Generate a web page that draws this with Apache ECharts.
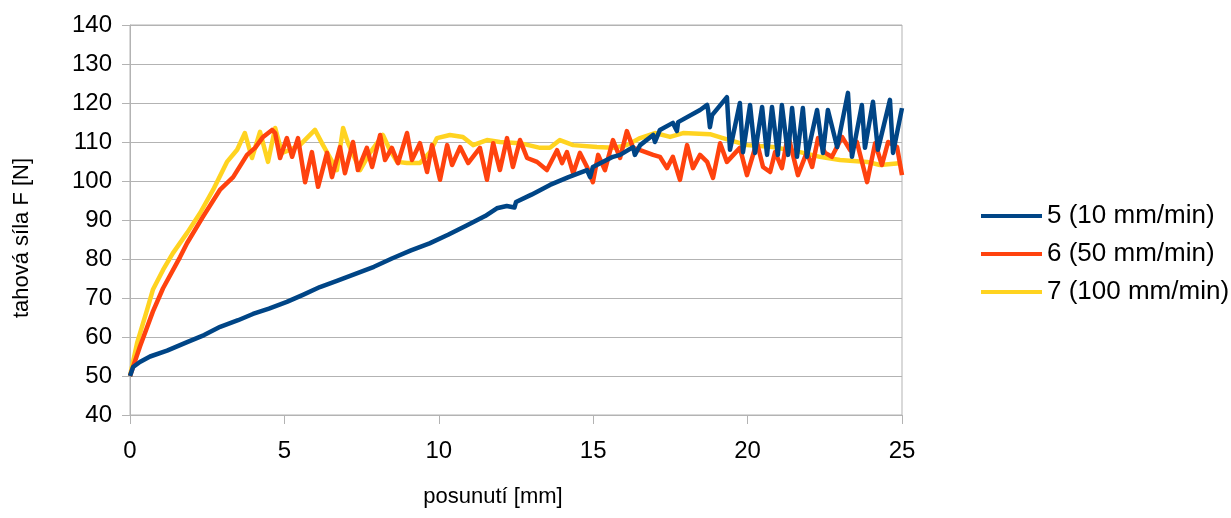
<!DOCTYPE html>
<html>
<head>
<meta charset="utf-8">
<script src="https://cdn.jsdelivr.net/npm/echarts@6/dist/echarts.min.js"></script>
<style>
  html, body { margin: 0; padding: 0; background: #fff; }
  #chart { width: 1231px; height: 518px; }
</style>
</head>
<body>
<div id="chart"></div>
<script>
// legend labels
var seriesNames = ['5 (10 mm/min)', '6 (50 mm/min)', '7 (100 mm/min)'];

// [posunutí mm, síla N]
var series5 = [
  [0, 50], [0.1, 52.3], [0.32, 53.6], [0.65, 55], [1.2, 56.5], [1.85, 58.7], [2.4, 60.5],
  [2.92, 62.6], [3.5, 64.3], [3.98, 65.9], [4.5, 67.3], [5.08, 69], [5.6, 70.8], [6.15, 72.8],
  [6.7, 74.4], [7.3, 76.2], [7.9, 78], [8.5, 80.2], [9.1, 82.2], [9.7, 84], [10.3, 86.2],
  [10.9, 88.6], [11.5, 91], [11.88, 93], [12.2, 93.6], [12.45, 93.2], [12.5, 94.6], [13, 96.5],
  [13.6, 99], [14.2, 101], [14.8, 102.8], [14.9, 101], [14.99, 103.6], [15.64, 106.2],
  [15.87, 106.7], [16.29, 108.7], [16.35, 106.7], [16.52, 109.2], [16.94, 111.8], [17.0, 110],
  [17.16, 113.1], [17.58, 114.9], [17.71, 112.8], [17.75, 115.1], [18.46, 118.2], [18.69, 119.5],
  [18.72, 118.2], [18.78, 113.8], [18.85, 116.9], [19.33, 121.5], [19.43, 108], [19.75, 120],
  [19.85, 107.4], [20.08, 119.5], [20.24, 107.2], [20.47, 119], [20.63, 106.7], [20.79, 119],
  [20.98, 106.7], [21.11, 119.5], [21.31, 106.7], [21.44, 118.7], [21.6, 106.2], [21.79, 118.7],
  [21.92, 106.2], [22.25, 118.2], [22.44, 107.2], [22.6, 118.2], [22.9, 108.7], [23.25, 122.6],
  [23.38, 106.2], [23.7, 119.5], [23.8, 108.5], [24.06, 120.3], [24.22, 108], [24.61, 120.8],
  [24.71, 107.2], [25, 118.7]
];

var series6 = [
  [0, 50], [0.32, 57.5], [0.74, 66.5], [1.07, 72.5], [1.62, 80.5], [1.85, 84.1], [2.36, 90.8],
  [2.91, 97.7], [3.34, 101], [3.79, 106.7], [4.05, 108.5], [4.31, 111.3], [4.6, 113.1],
  [4.7, 112.3], [4.86, 105.9], [5.08, 111], [5.25, 106.2], [5.44, 111], [5.67, 99.7],
  [5.89, 107.4], [6.09, 98.5], [6.38, 107.2], [6.54, 101], [6.8, 108.7], [6.96, 102],
  [7.22, 110], [7.38, 102.8], [7.67, 108.5], [7.84, 103.6], [8.1, 111.8], [8.26, 105.4],
  [8.48, 108.5], [8.68, 104.6], [8.97, 112.3], [9.13, 105.4], [9.39, 109.7], [9.62, 102.3],
  [9.78, 109.2], [10.04, 100.3], [10.27, 109.2], [10.43, 104.1], [10.69, 108.7], [10.95, 104.6],
  [11.33, 108.5], [11.56, 100.3], [11.76, 109.7], [11.98, 102.8], [12.21, 111], [12.4, 103.6],
  [12.63, 110.5], [12.86, 105.9], [13.18, 104.9], [13.5, 102.8], [13.83, 107.9], [13.99, 104.6],
  [14.15, 107.4], [14.35, 102], [14.57, 107.2], [14.8, 103.6], [14.99, 99.7], [15.16, 106.7],
  [15.38, 102.8], [15.64, 110.5], [15.87, 105.9], [16.09, 112.8], [16.29, 108.5], [16.52, 107.9],
  [16.94, 106.7], [17.16, 106.2], [17.39, 103.3], [17.58, 106.2], [17.81, 100.3], [18.04, 109.2],
  [18.23, 103.3], [18.46, 106.7], [18.69, 104.9], [18.88, 100.8], [19.11, 109.7], [19.33, 104.9],
  [19.75, 108.5], [19.98, 101.5], [20.3, 110], [20.5, 103.6], [20.73, 102.3], [20.89, 107.4],
  [21.11, 103.3], [21.31, 111.8], [21.63, 101.5], [21.92, 107.4], [22.09, 103.6], [22.28, 111],
  [22.51, 107.2], [22.73, 106.2], [23.06, 111.3], [23.32, 107.9], [23.54, 110], [23.87, 99.7],
  [24.13, 109.7], [24.35, 104.1], [24.55, 110], [24.84, 108.7], [25, 101.5]
];

var series7 = [
  [0, 50], [0.23, 58.5], [0.55, 66.9], [0.74, 72.1], [1.07, 77.2], [1.39, 81.5], [1.85, 86.7],
  [2.27, 91.8], [2.69, 97.7], [3.14, 104.9], [3.47, 108], [3.72, 112.3], [3.95, 105.9],
  [4.21, 112.6], [4.47, 104.9], [4.7, 113.6], [4.92, 107.2], [5.18, 108], [5.5, 109.2],
  [5.99, 113.1], [6.25, 109.2], [6.7, 102.8], [6.9, 113.6], [7.06, 109.7], [7.45, 102.8],
  [7.77, 107.2], [8.19, 111.8], [8.42, 107.9], [8.65, 104.9], [8.97, 104.6], [9.39, 104.6],
  [9.72, 107.4], [9.94, 111], [10.36, 111.8], [10.78, 111.3], [11.11, 109.2], [11.56, 110.5],
  [11.98, 110], [12.63, 109.7], [13.28, 108.5], [13.6, 108.5], [13.92, 110.5], [14.35, 109.2],
  [15.12, 108.7], [15.64, 108.5], [16.09, 109.2], [16.52, 111], [17.0, 112.3], [17.49, 111.3],
  [17.91, 112.3], [18.78, 112], [19.2, 111], [19.98, 109.2], [20.82, 108.7], [21.7, 107.4],
  [22.34, 106.2], [22.99, 105.4], [23.87, 104.9], [24.29, 104.1], [25, 104.6]
];

var seriesData = [series5, series6, series7];
var seriesColors = ['#004586', '#ff420e', '#ffd320'];

var chart = echarts.init(document.getElementById('chart'));

var series = seriesData.map(function (d, i) {
  return {
    name: seriesNames[i],
    type: 'line',
    data: d,
    showSymbol: false,
    symbol: 'none',
    z: 4 - i,
    lineStyle: { width: 4.5, color: seriesColors[i], join: 'round' },
    itemStyle: { color: seriesColors[i] }
  };
});

var option = {
  animation: false,
  textStyle: { fontFamily: 'Liberation Sans', color: '#000' },
  grid: {
    left: 130, right: 329, top: 25, bottom: 103,
    show: true, borderColor: '#b3b3b3', borderWidth: 1
  },
  legend: {
    orient: 'vertical',
    left: 976,
    top: 198,
    icon: 'rect',
    itemWidth: 61,
    itemHeight: 4,
    itemGap: 12,
    textStyle: { fontSize: 26, color: '#000', fontFamily: 'Liberation Sans' },
    data: seriesNames
  },
  xAxis: {
    type: 'value',
    min: 0, max: 25, interval: 5,
    name: 'posunutí [mm]',
    nameLocation: 'middle',
    nameGap: 71,
    nameTextStyle: { fontSize: 22, color: '#000', padding: [0, 46, 0, 0] },
    axisLine: { show: true, lineStyle: { color: '#b3b3b3' } },
    axisTick: { show: true, length: 9, lineStyle: { color: '#b3b3b3' } },
    axisLabel: { fontSize: 24, color: '#000', margin: 24 },
    splitLine: { show: false }
  },
  yAxis: {
    type: 'value',
    min: 40, max: 140, interval: 10,
    name: 'tahová síla F [N]',
    nameLocation: 'middle',
    nameGap: 97,
    nameTextStyle: { fontSize: 22, color: '#000', padding: [0, 36, 0, 0] },
    axisLine: { show: true, lineStyle: { color: '#b3b3b3' } },
    axisTick: { show: true, length: 8, lineStyle: { color: '#b3b3b3' } },
    axisLabel: { fontSize: 24, color: '#000', margin: 18 },
    splitLine: { show: true, lineStyle: { color: '#b3b3b3', width: 1 } }
  },
  series: series
};

option && chart.setOption(option);
</script>
</body>
</html>
